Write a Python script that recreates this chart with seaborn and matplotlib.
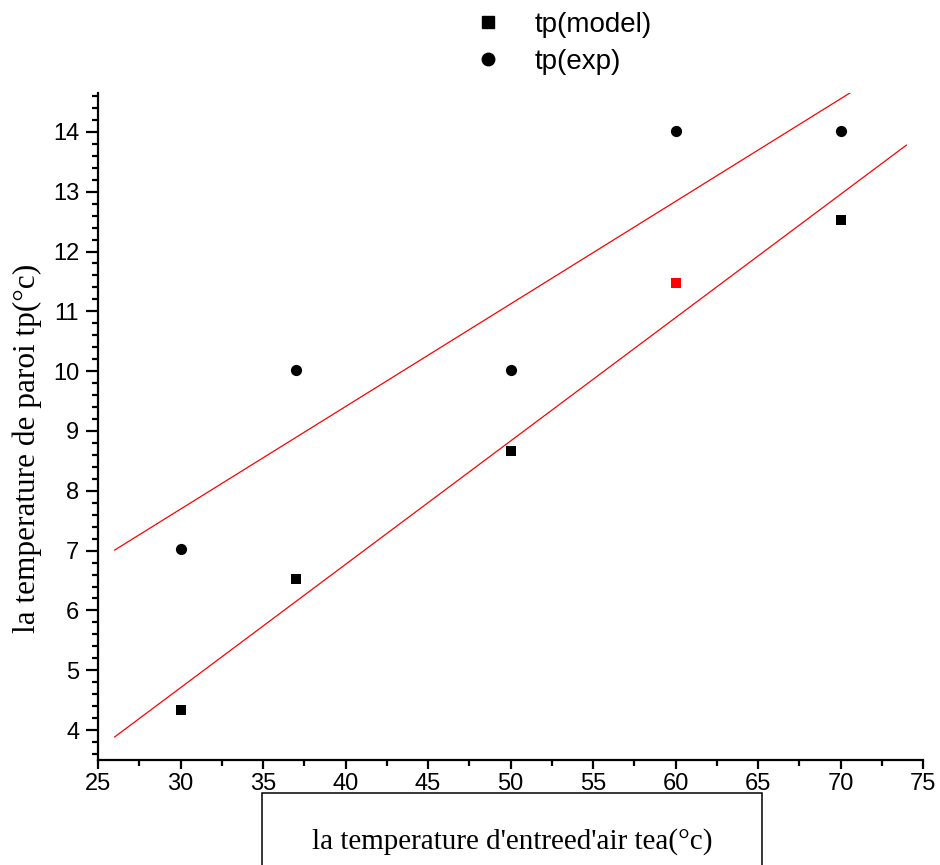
import numpy as np
import pandas as pd
import matplotlib
matplotlib.use("Agg")
import matplotlib.pyplot as plt
from matplotlib.patches import Rectangle
from matplotlib.lines import Line2D
from matplotlib.ticker import MultipleLocator
import seaborn as sns

# ---- data ----
tea = [30, 37, 50, 60, 70]
tp_model = [4.33, 6.53, 8.67, 11.48, 12.53]
tp_exp = [7.02, 10.02, 10.02, 14.02, 14.02]
fit_range = [26, 74]
highlight_index = 3  # model point drawn in red

x_ticks = [25, 30, 35, 40, 45, 50, 55, 60, 65, 70, 75]
y_ticks = [4, 5, 6, 7, 8, 9, 10, 11, 12, 13, 14]

xlabel = "la temperature d'entreed'air tea(°c)"
ylabel = "la temperature de paroi tp(°c)"

sns.set_style("ticks")
plt.rcParams["font.family"] = ["Liberation Sans", "DejaVu Sans"]
for k in ["text.color", "axes.labelcolor", "xtick.color", "ytick.color", "axes.edgecolor"]:
    plt.rcParams[k] = "black"

fig = plt.figure(figsize=(9.4, 8.65), dpi=100)
ax = fig.add_axes([98/940, 1-760/865, (923-98)/940, (760-93)/865])

df_model = pd.DataFrame({"x": tea, "y": tp_model})
df_exp = pd.DataFrame({"x": tea, "y": tp_exp})

# linear fits
xf = np.array(fit_range, dtype=float)
pm = np.polyfit(tea, tp_model, 1)
pe = np.polyfit(tea, tp_exp, 1)
df_fm = pd.DataFrame({"x": xf, "y": np.polyval(pm, xf)})
df_fe = pd.DataFrame({"x": xf, "y": np.polyval(pe, xf)})
sns.lineplot(data=df_fe, x="x", y="y", ax=ax, color="red", lw=0.9)
sns.lineplot(data=df_fm, x="x", y="y", ax=ax, color="red", lw=0.9)

sns.scatterplot(data=df_model, x="x", y="y", ax=ax, marker="s", s=50,
                color="black", edgecolor="black", linewidth=0, zorder=5)
sns.scatterplot(data=df_model.iloc[[highlight_index]], x="x", y="y", ax=ax,
                marker="s", s=50, color="red", edgecolor="red", linewidth=0, zorder=6)
sns.scatterplot(data=df_exp, x="x", y="y", ax=ax, marker="o", s=65,
                color="black", edgecolor="black", linewidth=0, zorder=5)

ax.set_xlim(25, 75)
ax.set_ylim(3.5, 14.65)
ax.set_xticks(x_ticks)
ax.set_yticks(y_ticks)
ax.xaxis.set_minor_locator(MultipleLocator(2.5))
ax.yaxis.set_minor_locator(MultipleLocator(0.2))
sns.despine(ax=ax)
for s in ["left", "bottom"]:
    ax.spines[s].set_linewidth(1.6)
ax.tick_params(axis="y", which="major", length=8.5, width=1.6, labelsize=17,
               direction="out", color="black", labelcolor="black", pad=5)
ax.tick_params(axis="y", which="minor", length=4.5, width=1.6, direction="out", color="black")
ax.tick_params(axis="x", which="major", length=6.5, width=1.6, labelsize=17,
               direction="out", color="black", labelcolor="black", pad=2.5)
ax.tick_params(axis="x", which="minor", length=4, width=1.6, direction="out", color="black")
ax.set_xlabel("")
ax.set_ylabel(ylabel, family=["Liberation Serif"], fontsize=22.5)
ax.yaxis.set_label_coords(-0.068, 0.467)

# x label in a box
fig.patches.append(Rectangle((262/940, -0.01), 500/940, (865-793)/865 + 0.01,
                             transform=fig.transFigure, fill=False,
                             edgecolor="black", lw=1.1))
fig.text(512/940, 1-842/865, xlabel, family=["Liberation Serif"], fontsize=21,
         ha="center", va="center")

handles = [Line2D([], [], ls="", marker="s", color="black", markersize=8),
           Line2D([], [], ls="", marker="o", color="black", markersize=9)]
fig.legend(handles, ["tp(model)", "tp(exp)"], loc="upper left",
           bbox_to_anchor=(449/940, 1.0 - 1/865), frameon=False, fontsize=20,
           handletextpad=0.68, labelspacing=0.38, borderaxespad=0.0)

fig.savefig("out.png", dpi=100)
